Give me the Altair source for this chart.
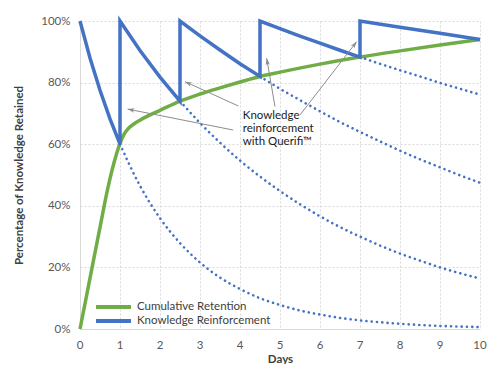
import math
import altair as alt
import pandas as pd

# ---- data ----
green_days = [0, 0.25, 0.5, 0.7, 0.85, 1, 1.1, 1.2, 1.33, 1.5, 1.75, 2, 2.5, 3, 3.5, 4, 4.5, 5, 6, 7, 8, 9, 10]
green_vals = [0, 16.5, 33, 46, 54, 60.3, 63.2, 65.0, 66.4, 67.8, 69.5, 71, 74, 76.3, 78.3, 80.2, 82, 83.4, 86, 88.3, 90.3, 92.2, 94]

blue_days = [0, 0.25, 0.5, 0.75, 1, 1, 1.5, 2, 2.5, 2.5, 3, 3.5, 4, 4.5, 4.5, 5, 5.5, 6, 6.5, 7, 7, 8, 9, 10]
blue_vals = [100, 88, 77.5, 68.2, 60, 100, 90.4, 81.8, 74, 100, 95.2, 90.6, 86.1, 82, 100, 97.5, 95.1, 92.8, 90.5, 88.3, 100, 98, 96, 94]

d1_days = [1, 1.5, 2, 2.5, 3, 3.5, 4, 4.5, 5, 5.5, 6, 6.5, 7, 7.5, 8, 8.5, 9, 9.5, 10]
d1_vals = [60, 46.5, 36, 27.9, 21.6, 16.7, 13, 10, 7.8, 6, 4.7, 3.6, 2.8, 2.2, 1.7, 1.3, 1.0, 0.8, 0.6]
d2_days = [2.5, 3, 3.5, 4, 4.5, 5, 5.5, 6, 6.5, 7, 7.5, 8, 8.5, 9, 9.5, 10]
d2_vals = [74, 66.9, 60.5, 54.7, 49.5, 44.8, 40.5, 36.6, 33.1, 30.0, 27.1, 24.5, 22.2, 20.0, 18.1, 16.4]
d3_days = [4.5, 5, 5.5, 6, 6.5, 7, 7.5, 8, 8.5, 9, 9.5, 10]
d3_vals = [82, 78.0, 74.3, 70.7, 67.2, 64.0, 60.9, 57.9, 55.1, 52.5, 49.9, 47.5]
d4_days = [7, 7.5, 8, 8.5, 9, 9.5, 10]
d4_vals = [88.3, 86.1, 84.0, 82.0, 79.9, 78.0, 76.1]

series_names = ["Cumulative Retention", "Knowledge Reinforcement"]
series_colors = ["#70AD47", "#4472C4"]

x_ticks = list(range(0, 11))
y_ticks = [0, 20, 40, 60, 80, 100]

note_text = ["Knowledge", "reinforcement", "with Querifi\u2122"]
note_x = [4.07]
note_y = [69.1]

arrow_x1 = [3.83, 3.96, 4.875, 5.5]
arrow_y1 = [64.6, 72.4, 72.2, 69.5]
arrow_x2 = [1.19, 2.625, 4.667, 6.917]
arrow_y2 = [71.4, 80.3, 87.9, 93.3]

# ---- layout ----
W, H = 400, 308
PX_X = W / 10.0
PX_Y = H / 100.0
FONT = "Lato"

green_df = pd.DataFrame({"day": green_days, "val": green_vals, "series": series_names[0]})
blue_df = pd.DataFrame({"day": blue_days, "val": blue_vals, "series": series_names[1],
                        "idx": list(range(len(blue_days)))})
dot_rows = []
for cid, (dd, vv) in enumerate([(d1_days, d1_vals), (d2_days, d2_vals), (d3_days, d3_vals), (d4_days, d4_vals)]):
    for d, v in zip(dd, vv):
        dot_rows.append({"day": d, "val": v, "curve": cid})
dots_df = pd.DataFrame(dot_rows)

angles = []
for xa, ya, xb, yb in zip(arrow_x1, arrow_y1, arrow_x2, arrow_y2):
    dx = (xb - xa) * PX_X
    dy = -(yb - ya) * PX_Y
    a = math.degrees(math.atan2(dx, -dy)) % 360
    angles.append(a)
arrows_df = pd.DataFrame({"x1": arrow_x1, "y1": arrow_y1, "x2": arrow_x2, "y2": arrow_y2, "angle": angles})
note_df = pd.DataFrame({"x": note_x, "y": note_y, "t": [note_text]})
xlab_df = pd.DataFrame({"tick": x_ticks, "label": [str(t) for t in x_ticks]})

xscale = alt.Scale(domain=[0, 10], nice=False)
yscale = alt.Scale(domain=[0, 100], nice=False)
xaxis = alt.Axis(values=x_ticks, title="Days", grid=True, ticks=False, labels=False,
                 titlePadding=24)
yaxis = alt.Axis(values=y_ticks, title="Percentage of Knowledge Retained", grid=True, ticks=False,
                 labelExpr="datum.value + '%'", labelPadding=10, titlePadding=16,
                 labelOverlap=False)
color = alt.Color("series:N", scale=alt.Scale(domain=series_names, range=series_colors),
                  legend=alt.Legend(title=None, orient="none", legendX=14, legendY=280,
                                    symbolType="stroke", symbolStrokeWidth=4, symbolSize=1225,
                                    clipHeight=12, labelOffset=4, rowPadding=2, padding=0))


def X(field):
    return alt.X(field, type="quantitative", scale=xscale, axis=xaxis)


def Y(field):
    return alt.Y(field, type="quantitative", scale=yscale, axis=yaxis)


green = alt.Chart(green_df).mark_line(strokeWidth=3.5, interpolate="monotone").encode(
    x=X("day"), y=Y("val"), color=color,
)

dots = alt.Chart(dots_df).mark_line(strokeWidth=2.6, strokeDash=[0.1, 5.2], strokeCap="round",
                                    interpolate="monotone", color="#4472C4").encode(
    x=X("day"), y=Y("val"), detail="curve:N"
)

blue = alt.Chart(blue_df).mark_line(strokeWidth=3.5, strokeJoin="miter").encode(
    x=X("day"), y=Y("val"), order="idx:Q", color=color,
)

rules = alt.Chart(arrows_df).mark_rule(color="#8C8C8C", strokeWidth=1).encode(
    x=X("x1"), y=Y("y1"), x2="x2:Q", y2="y2:Q"
)
heads = alt.Chart(arrows_df).mark_point(
    shape="M0,0L-0.75,2.3L0,1.7L0.75,2.3Z", filled=True, size=36, color="#8C8C8C", opacity=1
).encode(x=X("x2"), y=Y("y2"), angle=alt.Angle("angle:Q", scale=None))

note = alt.Chart(note_df).mark_text(align="left", baseline="middle", font=FONT, fontSize=11.5,
                                    lineHeight=12.7, color="#1a1a1a").encode(
    x=X("x"), y=Y("y"), text="t"
)

# x tick labels, placed through the x scale just below the axis line
xlabels = alt.Chart(xlab_df).mark_text(align="center", baseline="middle", font=FONT,
                                       fontSize=11.5, color="#595959").encode(
    x=X("tick"), y=alt.value(H + 17), text="label:N"
)

chart = alt.layer(green, dots, blue, rules, heads, note, xlabels).properties(
    width=W, height=H,
    autosize=alt.AutoSizeParams(type="none"),
    padding={"left": 72, "top": 13, "right": 12, "bottom": 35},
).configure_view(stroke=None).configure_axis(
    labelFont=FONT, labelFontSize=11.5, labelColor="#595959",
    titleFont=FONT, titleFontSize=11.5, titleColor="#404040", titleFontWeight="bold",
    gridColor="#D9D9D9", gridDash=[2, 2], domainColor="#D9D9D9", domainWidth=1,
).configure_legend(labelFont=FONT, labelFontSize=11.5, labelColor="#404040")

chart.save("out.html", embed_options={"renderer": "svg", "actions": False})
